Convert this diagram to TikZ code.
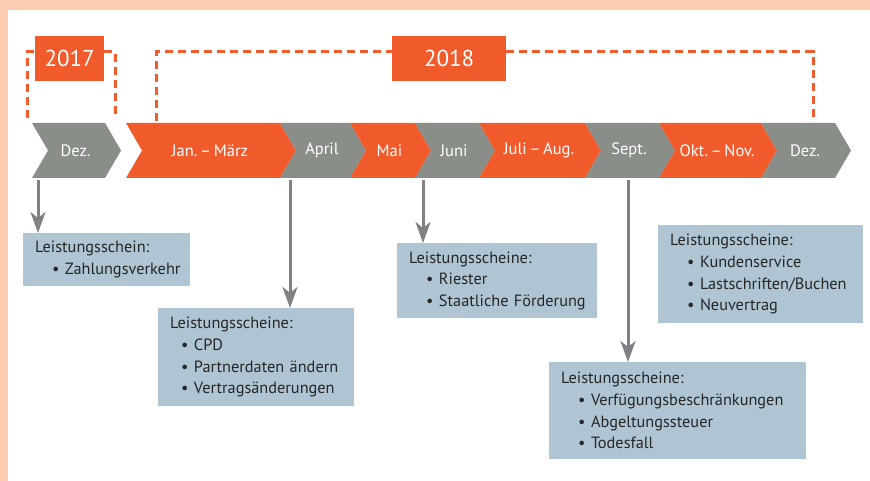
\documentclass[tikz,border=0pt]{standalone}
\usepackage{fontspec}
\setmainfont{PT Sans}
\usetikzlibrary{arrows.meta}

\definecolor{morange}{HTML}{F15A2B}
\definecolor{mgray}{HTML}{898E88}
\definecolor{sheetblue}{HTML}{AFC5D3}
\definecolor{pointergray}{HTML}{808085}
\definecolor{peach}{HTML}{FCCBB0}

\begin{document}
\begin{tikzpicture}[x=1pt, y=-1pt]
\tikzstyle{month}=[text=white, font=\fontsize{16.5}{19}\selectfont]
\tikzstyle{year}=[fill=morange, text=white, anchor=north west, inner sep=0pt, font=\fontsize{23}{27}\selectfont]
\tikzstyle{yearline}=[draw=morange, line width=3pt, dash pattern=on 8pt off 5pt]
\tikzstyle{sheet}=[fill=sheetblue, anchor=north west, inner xsep=12pt, inner ysep=0pt, align=left, text=black!85, font=\fontsize{16.3}{21.7}\selectfont]
\tikzstyle{pointer}=[draw=pointergray, line width=3pt, -{Stealth[length=21pt, width=15pt, inset=6pt]}]

\useasboundingbox (0,0) rectangle (870,481);
% Frame
\fill [peach] (0,0) rectangle (870,10);
\fill [peach] (0,0) rectangle (8,481);

% Years
\node at (35,36) [year, minimum width=69pt, minimum height=45pt] (y17) {2017};
\node at (392,36) [year, minimum width=114pt, minimum height=45pt] (y18) {2018};
\coordinate (l17) at (27,118);
\coordinate (r17) at (115,118);
\coordinate (l18) at (156,121);
\coordinate (r18) at (813,120);
\draw [yearline] (l17) -- (27,52) -- (y17.west |- 0,52);
\draw [yearline] (y17.east |- 0,52) -| (r17);
\draw [yearline] (l18) -- (156,52) -- (y18.west |- 0,52);
\draw [yearline] (y18.east |- 0,52) -| (r18);

% Months
\foreach \s/\e/\col/\lab/\n in {32/105/mgray/Dez./m0, 126/280/morange/{Jan.\,--\,März}/m1,
  280/350/mgray/April/m2, 350/415/morange/Mai/m3, 415/479/mgray/Juni/m4,
  479/585/morange/{Juli\,--\,Aug.}/m5, 585/659/mgray/Sept./m6,
  659/761/morange/{Okt.\,--\,Nov.}/m7, 761/835/mgray/Dez./m8}
{
\fill [\col] (\s,123) -- (\e,123) -- (\e+16,150.5) -- (\e,178) -- (\s,178) -- (\s+16,150.5) -- cycle;
\node at ({(\s+\e)/2+7},150.5) [month] (\n) {\lab};
}

% Sheets
\node at (23,233) [sheet, minimum width=167pt, minimum height=53pt, text width=143pt] (b0)
  {Leistungsschein:\\\hspace*{17pt}\textbullet~Zahlungsverkehr};
\node at (158,308) [sheet, minimum width=196pt, minimum height=98pt, text width=172pt] (b1)
  {Leistungsscheine:\\\hspace*{11pt}\textbullet~CPD\\\hspace*{11pt}\textbullet~Partnerdaten~ändern\\\hspace*{11pt}\textbullet~Vertragsänderungen};
\node at (397,243) [sheet, minimum width=200pt, minimum height=75pt, text width=176pt] (b2)
  {Leistungsscheine:\\\hspace*{17pt}\textbullet~Riester\\\hspace*{17pt}\textbullet~Staatliche~Förderung};
\node at (658,225) [sheet, minimum width=205pt, minimum height=98pt, text width=181pt] (b3)
  {Leistungsscheine:\\\hspace*{17pt}\textbullet~Kundenservice\\\hspace*{17pt}\textbullet~Lastschriften/Buchen\\\hspace*{17pt}\textbullet~Neuvertrag};
\node at (549,362) [sheet, minimum width=257pt, minimum height=97pt, text width=233pt] (b4)
  {Leistungsscheine:\\\hspace*{17pt}\textbullet~Verfügungsbeschränkungen\\\hspace*{17pt}\textbullet~Abgeltungssteuer\\\hspace*{17pt}\textbullet~Todesfall};

% Month -> sheet
\coordinate (p0) at (38,180);
\coordinate (p1) at (290,180);
\coordinate (p2) at (423,180);
\coordinate (p3) at (628,180);
\draw [pointer] (p0) -- (p0 |- b0.north);
\draw [pointer] (p1) -- (p1 |- b1.north);
\draw [pointer] (p2) -- (p2 |- b2.north);
\draw [pointer] (p3) -- (p3 |- b4.north);
\end{tikzpicture}
\end{document}
